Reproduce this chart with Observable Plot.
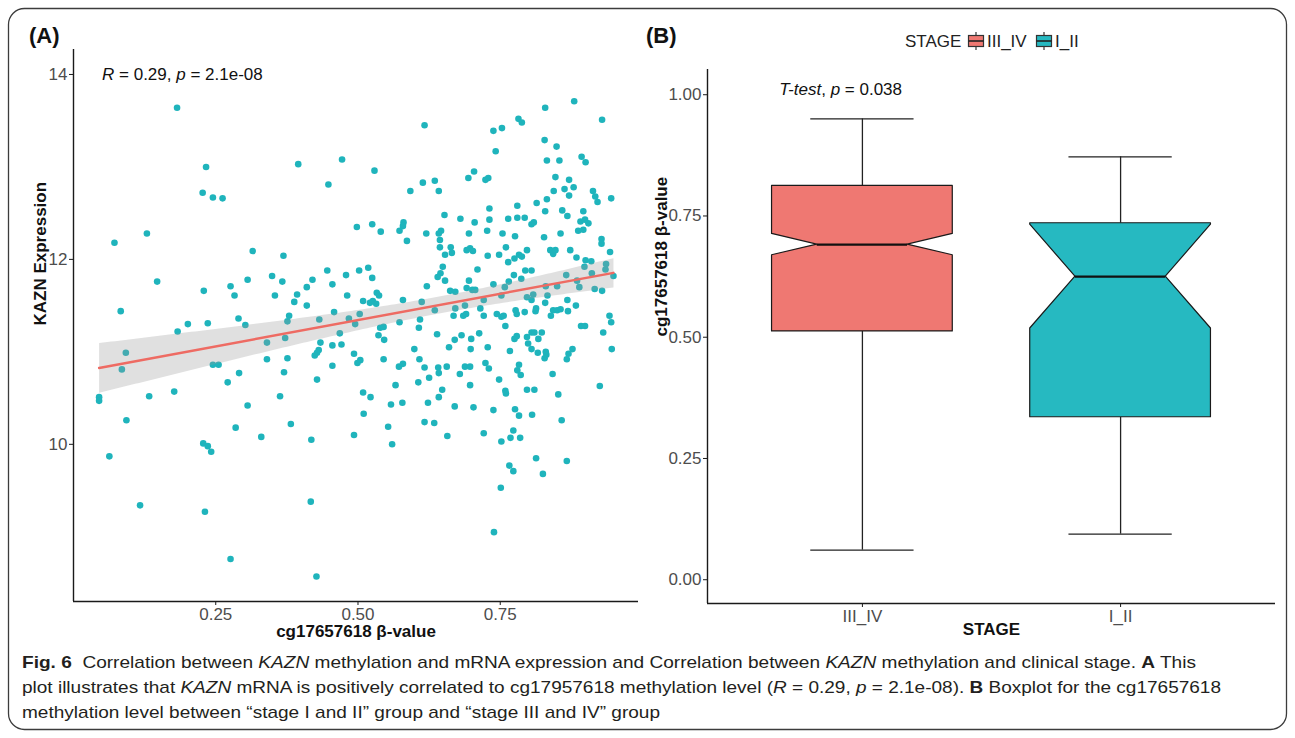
<!DOCTYPE html>
<html>
<head>
<meta charset="utf-8">
<script src="https://cdn.jsdelivr.net/npm/d3@7"></script>
<script src="https://cdn.jsdelivr.net/npm/@observablehq/plot@0.6"></script>
<style>
  html, body { margin: 0; padding: 0; background: #fff; }
  #fig { position: relative; width: 1295px; height: 738px; overflow: hidden; font-family: "Liberation Sans", Arial, sans-serif; }
  #fig > * { position: absolute; }
  #deco { left: 0; top: 0; }
  #panelA { left: 0; top: 0; }
  #panelB { left: 650px; top: 0; }
</style>
</head>
<body>
<div id="fig">
  <svg id="deco" width="1295" height="738"></svg>
  <div id="panelA"></div>
  <div id="panelB"></div>
</div>
<script>
// ---------- Panel A: cg17657618 methylation (β-value) vs KAZN expression, one entry per sample ----------
const beta = [
  0.182,0.233,0.395,0.448,0.227,0.245,0.262,0.072,0.129,0.315,0.369,0.446,0.147,0.229,0.276,0.283,0.306,0.349,0.367,0.354,
  0.420,0.410,0.455,0.393,0.388,0.410,0.083,0.290,0.379,0.458,0.201,0.236,0.432,0.376,0.302,
  0.183,0.092,0.085,0.245,0.255,0.340,0.372,0.340,0.376,0.291,0.271,0.370,0.434,0.431,0.428,0.424,0.455,0.455,0.428,0.045,
  0.045,0.133,0.177,0.306,0.363,0.093,0.285,0.382,0.330,0.418,0.228,0.236,0.242,0.063,0.117,0.231,0.417,0.276,0.427,
  0.880,0.829,0.929,0.782,0.788,0.738,0.753,0.617,0.828,0.849,0.742,0.472,0.832,0.854,0.893,0.900,0.529,0.704,0.694,0.724,
  0.729,0.614,0.635,0.592,0.642,0.847,0.871,0.863,0.879,0.871,0.844,0.913,0.917,0.921,0.945,0.832,0.814,0.780,0.731,0.859,
  0.829,0.896,0.652,0.680,0.731,0.705,0.764,0.780,0.793,0.805,0.809,0.868,0.891,0.899,0.905,0.896,0.887,0.498,0.525,0.540,
  0.580,0.579,0.573,0.586,0.620,0.646,0.642,0.644,0.695,0.727,0.754,0.776,0.827,0.856,0.928,0.928,0.943,0.873,0.838,0.843,
  0.847,0.797,0.653,0.663,0.665,0.644,0.691,0.697,0.702,0.728,0.748,0.760,0.775,0.783,0.788,0.764,0.884,0.900,0.910,0.649,
  0.710,0.794,0.805,0.645,0.640,0.653,0.695,0.738,0.765,0.774,0.787,0.621,0.502,0.518,0.525,0.479,0.481,0.509,0.521,0.526,
  0.532,0.533,0.537,0.579,0.662,0.671,0.691,0.701,0.706,0.758,0.721,0.688,0.671,0.635,0.612,0.573,0.609,0.503,0.484,0.495,
  0.668,0.685,0.690,0.715,0.721,0.744,0.752,0.756,0.777,0.779,0.793,0.808,0.805,0.797,0.829,0.833,0.813,0.812,0.843,0.839,
  0.850,0.856,0.869,0.868,0.883,0.830,0.850,0.866,0.885,0.889,0.898,0.911,0.916,0.929,0.936,0.935,0.949,0.942,0.945,0.752,
  0.468,0.471,0.493,0.499,0.504,0.536,0.539,0.545,0.546,0.545,0.607,0.599,0.608,0.572,0.579,0.566,0.606,0.617,0.625,0.639,
  0.641,0.642,0.656,0.648,0.642,0.558,0.578,0.623,0.660,0.670,0.682,0.679,0.688,0.697,0.699,0.698,0.697,0.713,0.728,0.724,
  0.730,0.670,0.703,0.748,0.759,0.759,0.760,0.767,0.775,0.779,0.783,0.780,0.786,0.797,0.799,0.805,0.810,0.823,0.817,0.805,
  0.816,0.830,0.828,0.831,0.797,0.810,0.842,0.852,0.867,0.870,0.877,0.892,0.899,0.931,0.946,0.925,0.738,0.776,0.783,0.806,
  0.858,0.510,0.522,0.509,0.553,0.560,0.493,0.617,0.634,0.657,0.721,0.752,0.768,0.773,0.785,0.867,0.813,0.825,0.766,0.773,
  0.751,0.739
];
const kazn = [
  13.64,13.00,13.03,12.81,12.72,12.67,12.66,12.18,12.28,12.09,12.04,11.88,11.76,11.66,11.71,11.61,11.78,11.82,11.76,11.61,
  11.78,11.70,11.73,11.62,11.54,11.50,11.44,11.36,11.39,11.43,11.30,11.31,11.35,11.33,11.29,
  11.22,10.99,10.81,10.86,10.86,11.10,11.15,10.92,10.93,10.77,10.67,10.78,11.10,11.02,10.99,10.96,11.07,10.85,10.70,10.51,
  10.47,10.52,10.57,10.42,10.52,10.26,10.18,10.22,10.08,10.05,10.01,9.98,9.92,9.87,9.34,9.27,9.38,8.76,8.57,
  13.71,13.64,13.51,13.52,13.48,13.39,13.42,13.45,13.29,13.22,13.17,13.08,13.07,13.07,13.11,13.05,12.96,12.95,12.88,12.86,
  12.88,12.83,12.85,12.74,12.74,12.89,12.86,12.76,12.78,12.69,12.74,12.74,12.68,12.62,12.66,12.65,12.61,12.58,12.55,12.53,
  12.52,12.52,12.48,12.44,12.43,12.40,12.44,12.45,12.45,12.38,12.40,12.47,12.41,12.43,12.39,12.32,12.31,12.35,12.38,12.30,
  12.40,12.36,12.31,12.20,12.28,12.31,12.28,12.21,12.28,12.31,12.28,12.25,12.24,12.28,12.22,12.17,12.08,12.10,12.10,12.06,
  12.10,12.10,12.05,12.13,12.07,12.13,12.10,12.12,12.09,12.04,12.05,12.13,12.01,12.05,12.03,11.97,12.02,11.99,11.98,11.92,
  11.89,11.88,11.88,11.85,11.81,11.77,11.77,11.73,11.76,11.83,11.79,11.71,11.88,11.91,11.80,11.83,11.61,11.55,11.53,11.55,
  11.52,11.64,11.61,11.56,11.66,11.65,11.69,11.67,11.67,11.70,11.56,11.50,11.47,11.45,11.54,11.32,11.35,11.41,11.36,11.30,
  11.39,11.39,11.41,11.47,11.39,11.41,11.38,11.39,11.45,11.41,11.43,11.62,11.56,11.59,11.53,11.61,11.47,11.44,11.45,11.39,
  11.45,11.46,11.44,11.56,11.50,11.71,11.71,11.83,11.77,11.70,11.92,11.85,11.68,11.66,11.95,11.89,11.82,11.39,11.32,11.61,
  11.20,11.08,10.98,10.88,10.91,11.18,11.26,11.27,11.13,10.92,11.26,11.03,10.92,10.84,10.87,10.64,10.67,10.83,10.72,11.19,
  10.83,10.77,10.84,10.59,10.51,10.43,10.45,10.45,11.05,11.13,11.18,10.76,10.84,10.84,11.14,11.03,10.64,11.20,11.05,10.88,
  10.82,10.41,10.40,10.70,11.28,10.58,10.55,11.01,11.14,11.17,10.86,10.80,10.75,11.16,11.09,11.21,11.21,11.21,11.14,11.03,
  10.99,11.00,10.93,10.97,10.59,10.59,10.76,10.54,10.92,10.98,11.03,11.28,11.28,11.21,11.03,10.63,10.37,10.38,10.31,10.32,
  10.26,10.33,10.51,10.56,10.19,10.00,10.10,10.24,10.23,10.09,10.12,10.03,10.07,10.15,10.07,9.82,9.85,9.68,9.77,9.71,
  9.53,9.05
];
const corrLabel = [["R", true], [" = 0.29, ", false], ["p", true], [" = 2.1e-08", false]];

// ---------- Panel B: notched boxplot summaries of the β-value by stage ----------
const stages      = ["III_IV", "I_II"];
const whiskerLow  = [0.061, 0.094];
const hingeLow    = [0.512, 0.335];
const notchLow    = [0.669, 0.518];
const medians     = [0.691, 0.625];
const notchHigh   = [0.713, 0.732];
const hingeHigh   = [0.812, 0.735];
const whiskerHigh = [0.950, 0.872];
const testLabel = [["T-test", true], [", ", false], ["p", true], [" = 0.038", false]];

// ---------- Tick values ----------
const ticksA_x = [0.25, 0.50, 0.75];
const ticksA_y = [10, 12, 14];
const ticksB_y = [0, 0.25, 0.50, 0.75, 1.00];

// ---------- Styling ----------
const FONT = "Liberation Sans, Arial, Helvetica, sans-serif";
const TEAL = "#1FB4BC";
const RED_LINE = "#EE6B63";
const stageColors = ["#EF7872", "#26B9C1"];
const TICK_TEXT = "#4D4D4D";
const AXIS = "#1a1a1a";
const ns = "http://www.w3.org/2000/svg";

function svgEl(tag, attrs, parent) {
  const e = document.createElementNS(ns, tag);
  for (const k in attrs) e.setAttribute(k, attrs[k]);
  if (parent) parent.appendChild(e);
  return e;
}
function richText(parent, x, y, parts, attrs) {
  const t = svgEl("text", Object.assign({x, y, "text-anchor": "start"}, attrs), parent);
  t.style.whiteSpace = "pre";
  for (const [s, style] of parts) {
    const ts = svgEl("tspan", {}, t);
    ts.textContent = s;
    if (style === true || style === "i") ts.setAttribute("font-style", "italic");
    if (style === "b") ts.setAttribute("font-weight", "bold");
  }
  return t;
}

// ---------- Panel A ----------
const points = beta.map((b, i) => ({beta: b, kazn: kazn[i]}));
const xDomA = [0, 0.993];
const yDomA = [8.30, 14.27];

const plotA = Plot.plot({
  width: 650, height: 640,
  marginLeft: 73, marginRight: 12, marginTop: 49, marginBottom: 39,
  style: {background: "transparent", fontFamily: FONT, overflow: "visible"},
  x: {domain: xDomA},
  y: {domain: yDomA},
  marks: [
    Plot.dot(points, {x: "beta", y: "kazn", r: 3.3, fill: TEAL, stroke: null}),
    Plot.linearRegressionY(points, {x: "beta", y: "kazn", stroke: RED_LINE, strokeWidth: 2.4,
      fill: "#999999", fillOpacity: 0.3}),
    Plot.ruleX([xDomA[0]], {stroke: AXIS, strokeWidth: 1.4}),
    Plot.ruleY([yDomA[0]], {stroke: AXIS, strokeWidth: 1.4}),
    Plot.axisX(ticksA_x, {tickFormat: d3.format(".2f"), tickSize: 4, tickPadding: 2, label: null,
      fontSize: 17, fill: TICK_TEXT, stroke: AXIS}),
    Plot.axisY(ticksA_y, {tickFormat: d3.format("d"), tickSize: 4, tickPadding: 2, label: null,
      fontSize: 17, fill: TICK_TEXT, stroke: AXIS}),
    Plot.text(["cg17657618 β-value"], {text: d => d, frameAnchor: "bottom", dy: 35,
      fontWeight: "bold", fontSize: 17, fill: "#111"}),
    Plot.text(["KAZN Expression"], {text: d => d, frameAnchor: "left", dx: -33, rotate: -90,
      fontWeight: "bold", fontSize: 17, fill: "#111"})
  ]
});
document.getElementById("panelA").appendChild(plotA);
{
  const sx = plotA.scale("x"), sy = plotA.scale("y");
  richText(plotA, sx.apply(0.051), sy.apply(14.0), corrLabel,
    {"font-size": 17, "dominant-baseline": "central", fill: "#111", "font-family": FONT});
}

// ---------- Panel B ----------
const BOX_HALF = 0.35, NOTCH_HALF = 0.175, CAP_HALF = 0.2;
const stats = stages.map((s, i) => ({
  stage: s, pos: i + 1,
  wl: whiskerLow[i], hl: hingeLow[i], nl: notchLow[i], med: medians[i],
  nh: notchHigh[i], hh: hingeHigh[i], wh: whiskerHigh[i]
}));
// outline of each notched box, traced bottom to top
const outline = stats.flatMap(d => [
  [d.hl, BOX_HALF], [d.nl, BOX_HALF], [d.med, NOTCH_HALF], [d.nh, BOX_HALF], [d.hh, BOX_HALF]
].map(([y, h]) => ({stage: d.stage, y, x1: d.pos - h, x2: d.pos + h})));

const xDomB = [0.4, 2.6];
const yDomB = [-0.049, 1.052];

const plotB = Plot.plot({
  width: 645, height: 640,
  marginLeft: 57, marginRight: 20, marginTop: 69, marginBottom: 37,
  style: {background: "transparent", fontFamily: FONT, overflow: "visible"},
  x: {domain: xDomB},
  y: {domain: yDomB},
  color: {domain: stages, range: stageColors},
  marks: [
    Plot.ruleX(stats, {x: "pos", y1: "hh", y2: "wh", stroke: "#222", strokeWidth: 1.3}),
    Plot.ruleX(stats, {x: "pos", y1: "wl", y2: "hl", stroke: "#222", strokeWidth: 1.3}),
    Plot.ruleY(stats, {y: "wh", x1: d => d.pos - CAP_HALF, x2: d => d.pos + CAP_HALF, stroke: "#222", strokeWidth: 1.3}),
    Plot.ruleY(stats, {y: "wl", x1: d => d.pos - CAP_HALF, x2: d => d.pos + CAP_HALF, stroke: "#222", strokeWidth: 1.3}),
    Plot.areaX(outline, {y: "y", x1: "x1", x2: "x2", z: "stage", fill: "stage",
      stroke: "#1a1a1a", strokeWidth: 1.2, curve: "linear"}),
    Plot.ruleY(stats, {y: "med", x1: d => d.pos - NOTCH_HALF, x2: d => d.pos + NOTCH_HALF, stroke: "#111", strokeWidth: 2.3}),
    Plot.ruleX([xDomB[0]], {stroke: AXIS, strokeWidth: 1.4}),
    Plot.ruleY([yDomB[0]], {stroke: AXIS, strokeWidth: 1.4}),
    Plot.axisX(stats.map(d => d.pos), {tickFormat: p => stages[p - 1], tickSize: 4, tickPadding: 2, label: null,
      fontSize: 17, fill: TICK_TEXT, stroke: AXIS}),
    Plot.axisY(ticksB_y, {tickFormat: d3.format(".2f"), tickSize: 4, tickPadding: 2, label: null,
      fontSize: 17, fill: TICK_TEXT, stroke: AXIS}),
    Plot.text(["STAGE"], {text: d => d, frameAnchor: "bottom", dy: 31, fontWeight: "bold", fontSize: 17, fill: "#111"}),
    Plot.text(["cg17657618 β-value"], {text: d => d, frameAnchor: "left", dx: -46, rotate: -90,
      fontWeight: "bold", fontSize: 17, fill: "#111"})
  ]
});
document.getElementById("panelB").appendChild(plotB);
{
  const sx = plotB.scale("x"), sy = plotB.scale("y");
  richText(plotB, sx.apply(0.68), sy.apply(1.01), testLabel,
    {"font-size": 17, "dominant-baseline": "central", fill: "#111", "font-family": FONT});
}

// ---------- Frame, panel tags, legend and caption ----------
const deco = document.getElementById("deco");
svgEl("rect", {x: 8.5, y: 8.5, width: 1278, height: 721, rx: 16, fill: "none", stroke: "#3c3c3c", "stroke-width": 1.3}, deco);
for (const [tag, x] of [["(A)", 29], ["(B)", 646]]) {
  const t = svgEl("text", {x, y: 43, "font-size": 22, "font-weight": "bold", fill: "#111", "font-family": FONT}, deco);
  t.textContent = tag;
}

// legend: STAGE with boxplot keys
{
  const g = svgEl("g", {"font-family": FONT, "font-size": 17, fill: "#222"}, deco);
  const title = svgEl("text", {x: 905, y: 47}, g);
  title.textContent = "STAGE";
  const keyX = [968, 1036];
  stages.forEach((s, i) => {
    const x = keyX[i];
    svgEl("line", {x1: x + 8, x2: x + 8, y1: 32, y2: 50, stroke: "#333", "stroke-width": 1.2}, g);
    svgEl("rect", {x: x + 0.5, y: 35.5, width: 15, height: 11, fill: stageColors[i], stroke: "#333", "stroke-width": 1.2}, g);
    svgEl("line", {x1: x + 0.5, x2: x + 15.5, y1: 41, y2: 41, stroke: "#222", "stroke-width": 1.6}, g);
    const lab = svgEl("text", {x: x + 19, y: 47}, g);
    lab.textContent = s;
  });
}

// caption
{
  const lines = [
    {y: 668, len: 1174, parts: [["Fig. 6", "b"], ["  Correlation between ", ""], ["KAZN", "i"],
      [" methylation and mRNA expression and Correlation between ", ""], ["KAZN", "i"],
      [" methylation and clinical stage. ", ""], ["A", "b"], [" This", ""]]},
    {y: 693, len: 1199, parts: [["plot illustrates that ", ""], ["KAZN", "i"],
      [" mRNA is positively correlated to cg17957618 methylation level (", ""], ["R", "i"], [" = 0.29, ", ""],
      ["p", "i"], [" = 2.1e-08). ", ""], ["B", "b"], [" Boxplot for the cg17657618", ""]]},
    {y: 718, len: 638, parts: [["methylation level between “stage I and II” group and “stage III and IV” group", ""]]}
  ];
  for (const l of lines) {
    richText(deco, 22, l.y, l.parts, {"font-size": 17, fill: "#231f20", "font-family": FONT,
      textLength: l.len, lengthAdjust: "spacingAndGlyphs"});
  }
}
</script>
</body>
</html>
